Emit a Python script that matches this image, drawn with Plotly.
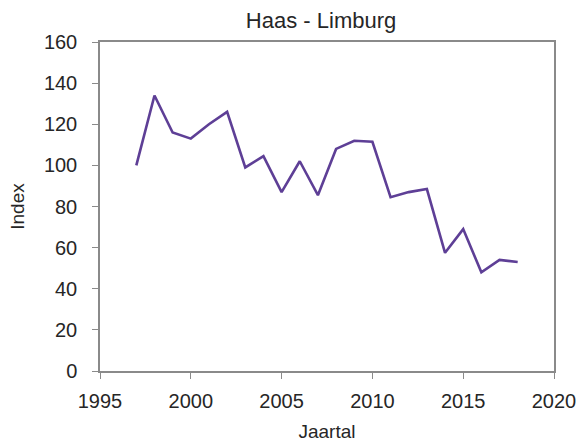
import plotly.graph_objects as go

years = [1997, 1998, 1999, 2000, 2001, 2002, 2003, 2004, 2005, 2006, 2007,
         2008, 2009, 2010, 2011, 2012, 2013, 2014, 2015, 2016, 2017, 2018]
index_values = [100, 134, 116, 113, 120, 126, 99, 104.5, 87, 102, 85.5,
                108, 112, 111.5, 84.5, 87, 88.5, 57.5, 69, 48, 54, 53]

title_text = "Haas - Limburg"
x_title = "Jaartal"
y_title = "Index"

FONT = "Liberation Sans, Arial"
TXT = "#262626"

fig = go.Figure()
fig.add_trace(go.Scatter(x=years, y=index_values, mode="lines",
                         line=dict(color="#5e3f96", width=2.6)))

axis_common = dict(showgrid=False, zeroline=False, showline=True, mirror=True,
                   linecolor="#8a8a8a", linewidth=1.5, ticks="outside",
                   ticklen=6, tickcolor="#8a8a8a", automargin=False,
                   tickfont=dict(family=FONT, size=20, color=TXT))

fig.update_layout(
    width=588, height=446,
    margin=dict(l=100, r=34, t=42, b=75),
    paper_bgcolor="white", plot_bgcolor="white",
    showlegend=False,
    title=dict(text=title_text, x=0.546, xanchor="center", y=0.955, yanchor="middle",
               font=dict(family=FONT, size=22, color=TXT)),
    xaxis=dict(range=[1995, 2020], tickvals=[1995, 2000, 2005, 2010, 2015, 2020],
               ticklabelstandoff=5,
               title=dict(text=x_title, standoff=14,
                          font=dict(family=FONT, size=19, color=TXT)),
               **axis_common),
    yaxis=dict(range=[0, 160], tickvals=[0, 20, 40, 60, 80, 100, 120, 140, 160],
               ticklabelstandoff=11,
               title=dict(text=y_title, standoff=14,
                          font=dict(family=FONT, size=19, color=TXT)),
               **axis_common),
)

fig.write_html("out.html",
               config={"displayModeBar": False},
               post_script="document.body.style.margin='0';document.body.style.overflow='hidden';")
